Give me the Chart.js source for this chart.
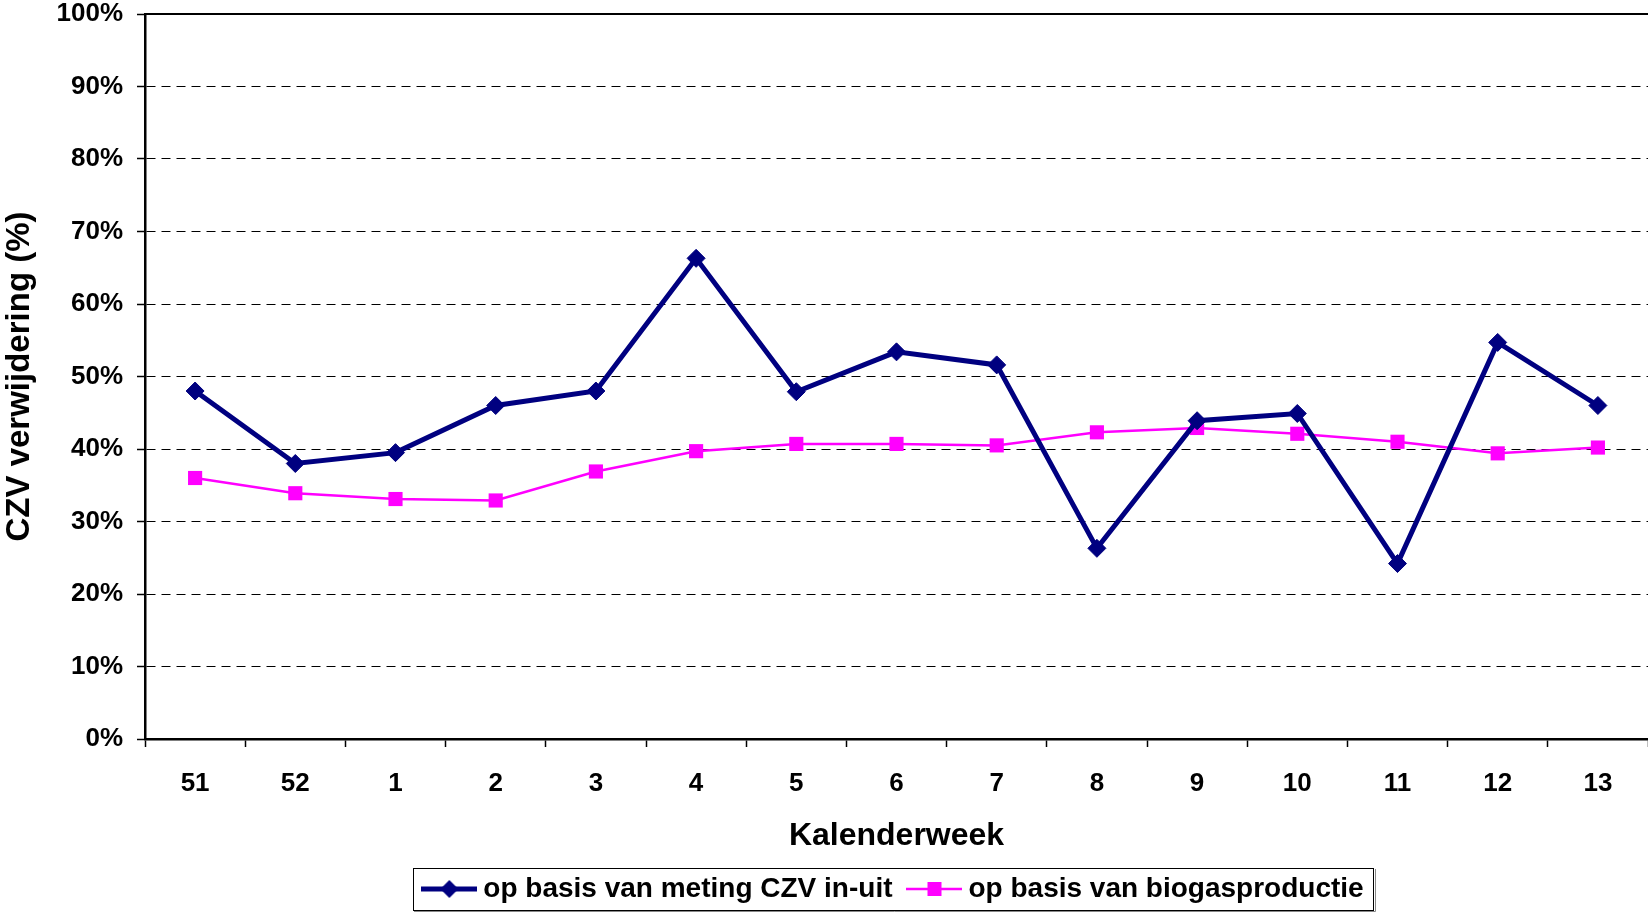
<!DOCTYPE html>
<html>
<head>
<meta charset="utf-8">
<script src="https://cdn.jsdelivr.net/npm/chart.js@4/dist/chart.umd.min.js"></script>
<style>
html,body{margin:0;padding:0;background:#fff;overflow:hidden;}
#wrap{width:1648px;height:916px;}
canvas{display:block;}
</style>
</head>
<body>
<div id="wrap"><canvas id="c" width="1648" height="916"></canvas></div>
<script>
// data
const weeks=['51','52','1','2','3','4','5','6','7','8','9','10','11','12','13'];
const czvInUit=[48.0,38.0,39.5,46.0,48.0,66.3,47.9,53.4,51.6,26.3,43.9,44.9,24.2,54.7,46.0];
const biogas=[36.0,33.9,33.1,32.9,36.9,39.7,40.7,40.7,40.5,42.3,42.9,42.1,41.0,39.4,40.2];
const yTicks=[0,10,20,30,40,50,60,70,80,90,100];

const NAVY='#000080', MAGENTA='#FF00FF';
const FONT='"Liberation Sans", Arial, sans-serif';

// little legend sample: line with marker in middle
function legendImg(color,lw,shape){
  const c=document.createElement('canvas'); c.width=56; c.height=22;
  const x=c.getContext('2d');
  x.strokeStyle=color; x.lineWidth=lw; x.beginPath(); x.moveTo(0,11); x.lineTo(56,11); x.stroke();
  x.fillStyle=color; x.beginPath();
  if(shape==='diamond'){x.moveTo(28,2);x.lineTo(37,11);x.lineTo(28,20);x.lineTo(19,11);x.closePath();}
  else{x.rect(21,4,14,14);}
  x.fill();
  return c;
}
function noPad(s){s.paddingTop=0;s.paddingBottom=0;s.paddingLeft=0;s.paddingRight=0;}

const legendBox={
  id:'legendBox',
  afterDraw(chart){
    const ctx=chart.ctx, a=chart.chartArea, hb=chart.legend.legendHitBoxes;
    ctx.save();
    // plot area top border
    ctx.strokeStyle='#000'; ctx.lineWidth=2;
    ctx.beginPath(); ctx.moveTo(a.left,a.top); ctx.lineTo(a.right,a.top); ctx.stroke();
    if(hb&&hb.length){
      const l=Math.min(...hb.map(h=>h.left))-16, r=Math.max(...hb.map(h=>h.left+h.width))+10;
      const cy=hb[0].top+hb[0].height/2;
      ctx.lineWidth=1; ctx.strokeStyle='#000';
      ctx.strokeRect(Math.round(l)+0.5,Math.round(cy-21)+0.5,Math.round(r-l),42);
      ctx.strokeStyle='#888';
      ctx.beginPath(); ctx.moveTo(Math.round(l)+1,Math.round(cy+21)+1.5); ctx.lineTo(Math.round(r)+1.5,Math.round(cy+21)+1.5); ctx.lineTo(Math.round(r)+1.5,Math.round(cy-21)+1); ctx.stroke();
    }
    ctx.restore();
  }
};

new Chart(document.getElementById('c'),{
  type:'line',
  data:{labels:weeks,datasets:[
    {label:'op basis van meting CZV in-uit',data:czvInUit,borderColor:NAVY,backgroundColor:NAVY,borderWidth:5,
     pointStyle:'rectRot',pointRadius:9,pointBorderWidth:1,pointBackgroundColor:NAVY,pointBorderColor:NAVY,tension:0},
    {label:'op basis van biogasproductie',data:biogas,borderColor:MAGENTA,backgroundColor:MAGENTA,borderWidth:2.5,
     pointStyle:'rect',pointRadius:10,pointBorderWidth:0,pointBackgroundColor:MAGENTA,tension:0}
  ]},
  options:{
    responsive:false,animation:false,
    layout:{autoPadding:false,padding:{top:14,right:0,bottom:3,left:0}},
    plugins:{
      tooltip:{enabled:false},
      legend:{
        position:'bottom',fullSize:false,
        labels:{
          color:'#000',font:{family:FONT,size:28,weight:'bold'},padding:22,
          usePointStyle:true,pointStyleWidth:40,boxHeight:28,
          generateLabels(chart){
            const imgs=[legendImg(NAVY,5,'diamond'),legendImg(MAGENTA,2.5,'square')];
            return chart.data.datasets.map((d,i)=>({text:d.label,pointStyle:imgs[i],fillStyle:d.borderColor,strokeStyle:d.borderColor,lineWidth:0,datasetIndex:i,hidden:false,fontColor:'#000'}));
          }
        }
      }
    },
    scales:{
      x:{
        offset:true,
        grid:{drawOnChartArea:false,drawTicks:true,tickLength:8,offset:true,tickColor:'#000',tickWidth:1.5},
        border:{color:'#000',width:2.5},
        ticks:{color:'#000',font:{family:FONT,size:26,weight:'bold'},padding:21,maxRotation:0,autoSkip:false},
        title:{display:true,text:'Kalenderweek',color:'#000',font:{family:FONT,size:32,weight:'bold'},padding:{top:0,bottom:-2}},
        afterFit(s){s.height=114;noPad(s);}
      },
      y:{
        min:0,max:100,
        afterBuildTicks(s){s.ticks=yTicks.map(v=>({value:v}));},
        grid:{color:'#000',lineWidth:1,tickLength:8,tickColor:'#000',tickWidth:1.5},
        border:{color:'#000',width:2.5,dash:[9,6]},
        ticks:{color:'#000',font:{family:FONT,size:26,weight:'bold',lineHeight:1},padding:14,callback:v=>v+'%'},
        title:{display:true,text:'CZV verwijdering (%)',color:'#000',font:{family:FONT,size:33,weight:'bold'},padding:{top:0,bottom:0}},
        afterFit(s){s.width=145;noPad(s);}
      }
    }
  },
  plugins:[legendBox]
});
</script>
</body>
</html>
